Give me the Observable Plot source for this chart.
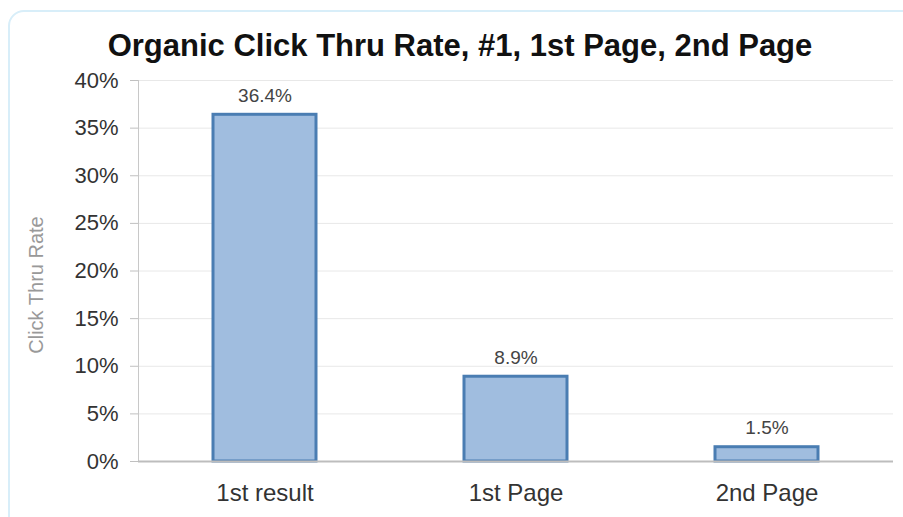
<!DOCTYPE html>
<html>
<head>
<meta charset="utf-8">
<script src="https://cdn.jsdelivr.net/npm/d3@7"></script>
<script src="https://cdn.jsdelivr.net/npm/@observablehq/plot@0.6"></script>
<style>
  html, body { margin: 0; padding: 0; background: #fff; overflow: hidden; width: 903px; height: 517px; }
  #frame { position: absolute; left: 8px; top: 10px; width: 1000px; height: 600px; border: 2px solid #d8eef9; border-radius: 16px; box-sizing: border-box; }
  #title { position: absolute; left: 0; top: 28px; width: 920px; text-align: center; font-family: "Liberation Sans", Arial, sans-serif; font-weight: bold; font-size: 31px; color: #111; line-height: 36px; }
  #chart { position: absolute; left: 0; top: 68px; }
</style>
</head>
<body>
<div id="frame"></div>
<div id="title">Organic Click Thru Rate, #1, 1st Page, 2nd Page</div>
<div id="chart"></div>
<script>
const categories = ["1st result", "1st Page", "2nd Page"];
const rates = [0.364, 0.089, 0.015];
const valueLabels = ["36.4%", "8.9%", "1.5%"];
const yTicks = [0, 0.05, 0.10, 0.15, 0.20, 0.25, 0.30, 0.35, 0.40];
const yLabel = "Click Thru Rate";

const data = categories.map((c, i) => ({category: c, rate: rates[i], label: valueLabels[i]}));

const chart = Plot.plot({
  width: 903,
  height: 449,
  marginLeft: 138,
  marginRight: 10,
  marginTop: 12,
  marginBottom: 56,
  style: {fontFamily: "'Liberation Sans', Arial, sans-serif", background: "transparent"},
  x: {domain: categories, paddingInner: 0.59, paddingOuter: 0.295, label: null},
  y: {domain: [0, 0.4], label: null},
  marks: [
    Plot.gridY(yTicks, {stroke: "#e8e8e8", strokeOpacity: 1}),
    Plot.frame({anchor: "left", stroke: "#c8c8c8"}),
    Plot.barY(data, {x: "category", y: "rate", fill: "#a0bddf", stroke: "#4a7db2", strokeWidth: 3}),
    Plot.ruleY([0], {stroke: "#bdbdbd", strokeWidth: 2}),
    Plot.axisY({ticks: yTicks, tickFormat: d3.format(".0%"), tickSize: 8, tickPadding: 12, fontSize: 22, color: "#333", stroke: "#c0c0c0", label: null}),
    Plot.text([yLabel], {text: d => d, frameAnchor: "left", rotate: -90, dx: -102, dy: 14, fontSize: 20, fill: "#999", textAnchor: "middle"}),
    Plot.axisX({tickSize: 0, tickPadding: 22, fontSize: 24, color: "#333", label: null}),
    Plot.text(data, {x: "category", y: "rate", text: "label", dy: -19, fontSize: 19, fill: "#444", lineAnchor: "middle"})
  ]
});
document.getElementById("chart").appendChild(chart);
</script>
</body>
</html>
